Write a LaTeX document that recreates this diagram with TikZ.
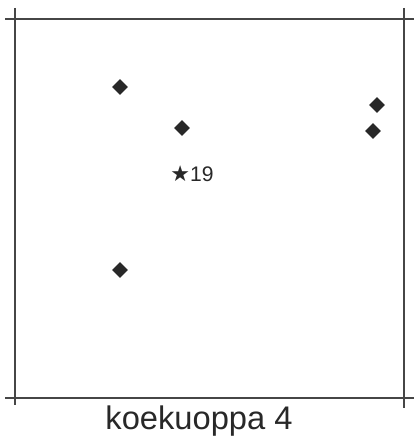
\documentclass[tikz,border=0pt]{standalone}
\usepackage{fontspec}
\setmainfont{Liberation Sans}
\newfontfamily\symbolfont{DejaVu Sans}
\usetikzlibrary{shapes.geometric}
\definecolor{LineGray}{RGB}{70,70,70}
\definecolor{MarkGray}{RGB}{40,40,40}
\tikzset{
  frame/.style={draw=LineGray,line width=0.6pt},
  find/.style={diamond,fill=MarkGray,inner sep=0pt,minimum width=0.32cm,
    minimum height=0.32cm}
}

\begin{document}
\begin{tikzpicture}[x=0.02cm,y=-0.02cm]
\useasboundingbox (0,0) rectangle (414,439);

% pit frame
\draw[frame] (5,19) -- (414,19);
\draw[frame] (5,398) -- (414,398);
\draw[frame] (15,8) -- (15,405);
\draw[frame] (404,8) -- (404,408);

% finds
\node[find] (f1) at (120,87) {};
\node[find] (f2) at (182,128) {};
\node[find] (f3) at (377,105) {};
\node[find] (f4) at (373,131) {};
\node[find] (f5) at (120,270) {};

\node[font=\fontsize{12}{14}\selectfont,text=MarkGray,inner sep=0pt]
  (n19) at (192,174) {{\symbolfont\fontsize{12.5}{14}\selectfont ★}19};

% title
\node[font=\fontsize{18.6}{22}\selectfont,text=MarkGray,inner sep=0pt]
  (title) at (199,421) {koekuoppa 4};

\end{tikzpicture}
\end{document}
